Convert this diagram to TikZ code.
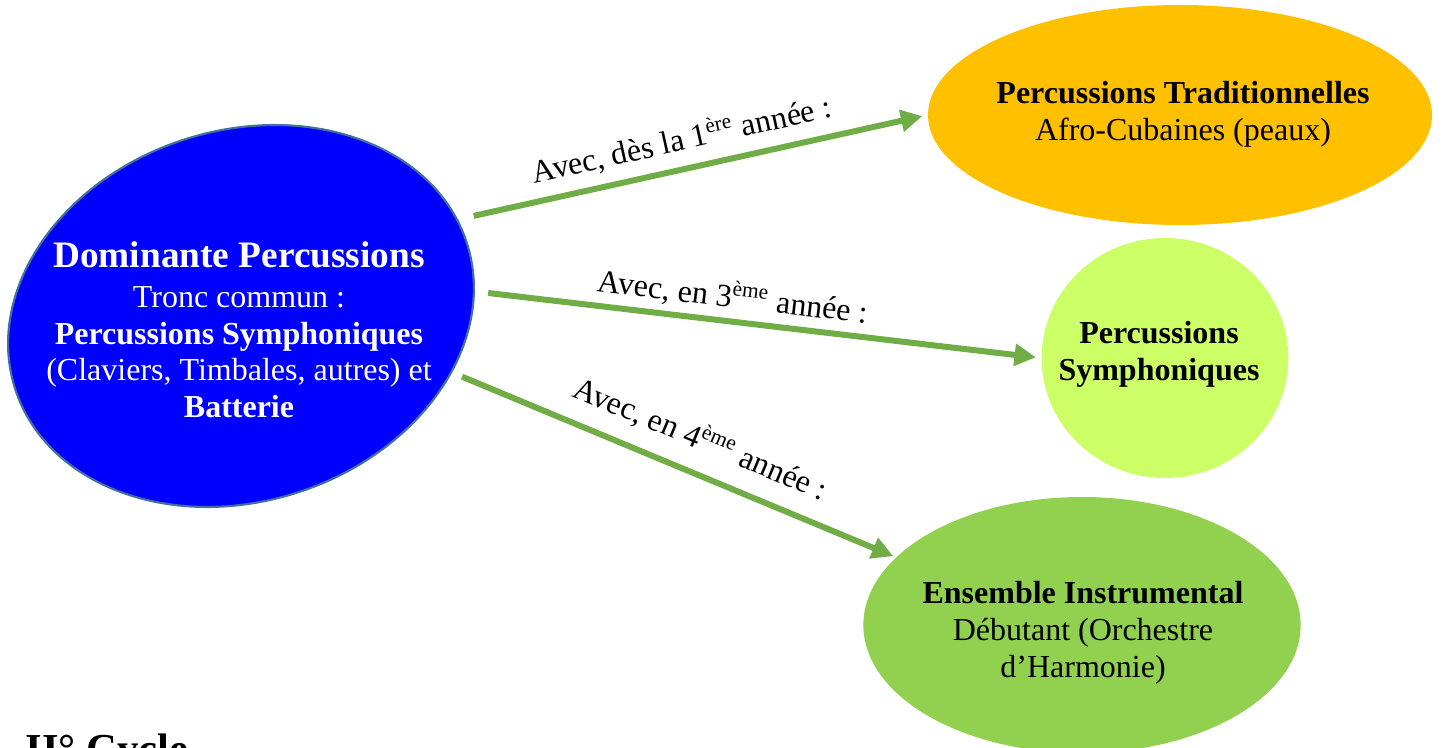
\documentclass[tikz,border=0pt]{standalone}
\usepackage{fontspec}
\setmainfont{Liberation Serif}
\usetikzlibrary{shapes.geometric, arrows.meta}

\definecolor{domblue}{RGB}{0,0,255}
\definecolor{domborder}{RGB}{65,113,156}
\definecolor{tradorange}{RGB}{255,192,0}
\definecolor{symphlime}{RGB}{204,255,102}
\definecolor{ensgreen}{RGB}{146,208,80}
\definecolor{arrowgreen}{RGB}{112,173,71}

\begin{document}
\begin{tikzpicture}[x=0.375pt, y=-0.375pt, >={Triangle[length=8pt, width=8pt]},
    bubble/.style={ellipse, inner sep=0pt},
    caption/.style={align=center, font=\fontsize{12}{13.8}\selectfont},
    link/.style={->, draw=arrowgreen, line width=2.25pt},
    year/.style={sloped, font=\fontsize{12}{14}\selectfont, text=black}]

    \clip (0,0) rectangle (1450,748);

    % Define bubbles
    \node[bubble, fill=domblue, draw=domborder, line width=0.8pt, rotate=18,
          minimum width=178pt, minimum height=139pt] (dom) at (241,316) {};
    \node[bubble, fill=tradorange, minimum width=189pt, minimum height=82.5pt] (trad) at (1180,115) {};
    \node[bubble, fill=symphlime, minimum width=92.5pt, minimum height=90pt] (symph) at (1165,358) {};
    \node[bubble, fill=ensgreen, minimum width=164pt, minimum height=96pt] (ens) at (1082,625) {};

    % Texts inside the bubbles
    \node[caption, text=white] (domtext) at (239,330)
        {{\fontsize{14}{16}\selectfont\bfseries Dominante Percussions}\\[1pt]
         Tronc commun :\\\textbf{Percussions Symphoniques}\\
         (Claviers, Timbales, autres) et\\\textbf{Batterie}};
    \node[caption] (tradtext) at (1183,114)
        {\textbf{Percussions Traditionnelles}\\Afro-Cubaines (peaux)};
    \node[caption, font=\fontsize{12}{13.8}\selectfont\bfseries] (symphtext) at (1159,354)
        {Percussions\\Symphoniques};
    \node[caption] (enstext) at (1083,633)
        {\textbf{Ensemble Instrumental}\\Débutant (Orchestre\\d’Harmonie)};

    \node[anchor=base west, inner sep=0pt, font=\fontsize{16}{19}\selectfont\bfseries] (cycle) at (25,763) {II° Cycle};

    % Transitions
    \path (dom.6)   edge [link, shorten <=6pt, shorten >=2pt]
                    node[year, above, pos=0.49, inner sep=4pt] {Avec, dès la 1\textsuperscript{ère} année :} (trad.west)
          (dom.-12) edge [link, shorten <=5pt, shorten >=2pt]
                    node[year, above, pos=0.45, inner sep=2.3pt] {Avec, en 3\textsuperscript{ème} année :} (symph.west)
          (dom.-33) edge [link, shorten <=4pt, shorten >=1pt]
                    node[year, above, pos=0.53, inner sep=6pt] {Avec, en 4\textsuperscript{ème} année :} (ens.160);

\end{tikzpicture}
\end{document}
